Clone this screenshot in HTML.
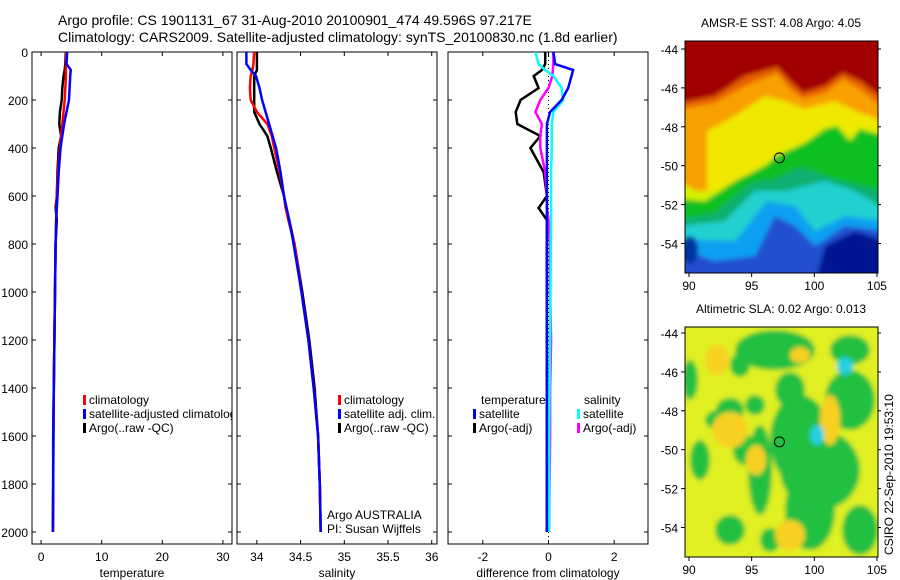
<!DOCTYPE html>
<html><head><meta charset="utf-8"><style>
body{margin:0;background:#fff}
svg{display:block;font-family:"Liberation Sans",sans-serif}
</style></head><body>
<svg id="s" width="900" height="580" viewBox="0 0 900 580">
<defs>
<filter id="bl" x="-5%" y="-5%" width="110%" height="110%"><feGaussianBlur stdDeviation="2.5"/></filter>
<clipPath id="c1"><rect x="32" y="52" width="200" height="492"/></clipPath>
<clipPath id="c2"><rect x="237" y="52" width="200" height="492"/></clipPath>
<clipPath id="c3"><rect x="448" y="52" width="200" height="492"/></clipPath>
<clipPath id="cm1"><rect x="685" y="41" width="193" height="232"/></clipPath>
<clipPath id="cm2"><rect x="685" y="327" width="193" height="230"/></clipPath>
</defs>
<text x="58" y="25" font-size="14">Argo profile: CS 1901131_67 31-Aug-2010 20100901_474 49.596S 97.217E</text>
<text x="58" y="42" font-size="14">Climatology: CARS2009. Satellite-adjusted climatology: synTS_20100830.nc (1.8d earlier)</text>
<g id="g"></g>
</svg>
<script>
// depth levels (m)
const depths=[0,50,75,100,150,200,250,300,350,400,500,600,650,700,800,1000,1200,1400,1600,1800,2000];
// temperature panel
const tempArgo=[4.1,4.0,3.9,3.7,3.5,3.4,3.1,3.0,3.3,2.9,2.7,2.6,2.4,2.6,2.4,2.3,2.2,2.1,2.05,2.0,1.95];
const tempClim=[4.2,4.1,4.1,4.1,4.0,3.9,3.7,3.5,3.3,3.1,2.8,2.6,2.55,2.5,2.4,2.3,2.2,2.1,2.0,2.0,1.95];
const tempSat=[4.3,4.2,4.9,4.8,4.7,4.6,4.2,3.8,3.5,3.2,2.9,2.7,2.6,2.5,2.4,2.3,2.2,2.1,2.0,2.0,1.95];
// salinity panel
const salArgo=[34.0,34.0,34.0,33.97,33.97,33.97,33.97,34.03,34.12,34.16,34.23,34.31,34.33,34.37,34.43,34.52,34.60,34.66,34.70,34.72,34.73];
const salClim=[33.97,33.96,33.95,33.93,33.92,33.93,34.0,34.12,34.17,34.2,34.26,34.31,34.33,34.36,34.43,34.51,34.59,34.65,34.70,34.72,34.73];
const salSat=[33.88,33.88,33.93,33.99,34.03,34.06,34.1,34.14,34.18,34.22,34.27,34.31,34.34,34.37,34.42,34.51,34.59,34.65,34.70,34.72,34.73];
// difference panel
const dTempArgo=[-0.1,-0.1,-0.2,-0.45,-0.3,-0.85,-1.0,-0.95,-0.25,-0.55,-0.15,-0.05,-0.3,-0.05,-0.05,-0.05,-0.05,-0.05,-0.05,-0.05,-0.05];
const dTempSat=[0.15,0.2,0.75,0.7,0.6,0.4,0.05,-0.05,-0.05,-0.05,-0.05,-0.05,-0.05,-0.05,-0.05,-0.05,-0.05,-0.05,-0.05,-0.05,-0.05];
const dSalArgo=[0.15,0.15,0.13,0.12,0.0,-0.25,-0.4,-0.2,-0.25,-0.25,-0.1,-0.05,-0.05,0.0,0.05,0.05,0.08,0.05,0.05,0.03,0.02];
const dSalSat=[-0.4,-0.3,-0.1,0.15,0.4,0.45,0.15,0.1,0.1,0.1,0.08,0.08,0.08,0.08,0.07,0.06,0.05,0.03,0.02,0.02,0.02];
const tempTicks=[0,10,20,30], salTicks=[34,34.5,35,35.5,36], diffTicks=[-2,0,2];
const depthTicks=[0,200,400,600,800,1000,1200,1400,1600,1800,2000];
const latTicks=[-44,-46,-48,-50,-52,-54], lonTicks=[90,95,100,105];

const NS='http://www.w3.org/2000/svg', G=document.getElementById('g');
function mk(t,a,p){const e=document.createElementNS(NS,t);for(const k in a)e.setAttribute(k,a[k]);(p||G).appendChild(e);return e;}
const Y=d=>52+d*0.24;
const panels=[
 {x0:32,lo:-1.5,hi:31.5,ticks:tempTicks,lab:'temperature',clip:'c1',name:'temperature-panel'},
 {x0:237,lo:33.773,hi:36.06,ticks:salTicks,lab:'salinity',clip:'c2',name:'salinity-panel'},
 {x0:448,lo:-3.06,hi:3.03,ticks:diffTicks,lab:'difference from climatology',clip:'c3',name:'difference-panel'}];
panels.forEach(p=>{p.X=v=>p.x0+(v-p.lo)/(p.hi-p.lo)*200;});
panels.forEach((p,i)=>{
 const r=mk('rect',{x:p.x0,y:52,width:200,height:492,fill:'none',stroke:'#000','stroke-width':1});
 
 
 depthTicks.forEach(d=>{
  mk('line',{x1:p.x0,x2:p.x0+4,y1:Y(d),y2:Y(d),stroke:'#000'});
  mk('line',{x1:p.x0+196,x2:p.x0+200,y1:Y(d),y2:Y(d),stroke:'#000'});
  if(i==0){const t=mk('text',{x:28,y:Y(d)+5,'font-size':12,'text-anchor':'end'});t.textContent=d;
   
   }
 });
 p.ticks.forEach(v=>{const x=p.X(v);
  mk('line',{x1:x,x2:x,y1:52,y2:56,stroke:'#000'});mk('line',{x1:x,x2:x,y1:540,y2:544,stroke:'#000'});
  const t=mk('text',{x:x,y:561,'font-size':12,'text-anchor':'middle'});t.textContent=v;
  
  });
 const t=mk('text',{x:p.x0+100,y:577,'font-size':12,'text-anchor':'middle'});t.textContent=p.lab;
 
 
});
function line(p,vals,col,name,w){
 const pts=vals.map((v,j)=>p.X(v).toFixed(1)+','+Y(depths[j]).toFixed(1)).join(' ');
 const e=mk('polyline',{points:pts,fill:'none',stroke:col,'stroke-width':w||2.5,'clip-path':'url(#'+p.clip+')'});
 
 
}
const P=panels;
mk('line',{x1:P[2].X(0),x2:P[2].X(0),y1:52,y2:544,stroke:'#000','stroke-dasharray':'1,3'});
line(P[0],tempArgo,'#000','temp-argo-line');line(P[0],tempClim,'#f00','temp-climatology-line');line(P[0],tempSat,'#00f','temp-satellite-line');
line(P[1],salArgo,'#000','sal-argo-line');line(P[1],salClim,'#f00','sal-climatology-line');line(P[1],salSat,'#00f','sal-satellite-line');
line(P[2],dTempArgo,'#000','diff-temp-argo-line');line(P[2],dSalArgo,'#f0f','diff-sal-argo-line');line(P[2],dSalSat,'#0ff','diff-sal-satellite-line');line(P[2],dTempSat,'#00f','diff-temp-satellite-line');
function leg(x,y,col,txt,clip,name){
 mk('rect',{x:x,y:y-9,width:3,height:10,fill:col});
 const t=mk('text',{x:x+6,y:y,'font-size':12,'clip-path':clip?'url(#'+clip+')':''});t.textContent=txt;
 
 
}
leg(83,404,'#f00','climatology','c1','legend-climatology');leg(83,418,'#00f','satellite-adjusted climatology','c1','legend-satellite');leg(83,432,'#000','Argo(..raw -QC)','c1','legend-argo');
leg(338,404,'#f00','climatology','c2','legend2-climatology');leg(338,418,'#00f','satellite adj. clim.','c2','legend2-satellite');leg(338,432,'#000','Argo(..raw -QC)','c2','legend2-argo');
let tt=mk('text',{x:481,y:404,'font-size':12});tt.textContent='temperature';


tt=mk('text',{x:584,y:404,'font-size':12});tt.textContent='salinity';


leg(473,418,'#00f','satellite','','legend3-temp-satellite');leg(473,432,'#000','Argo(-adj)','','legend3-temp-argo');
leg(577,418,'#0ff','satellite','','legend3-sal-satellite');leg(577,432,'#f0f','Argo(-adj)','','legend3-sal-argo');
tt=mk('text',{x:327,y:519,'font-size':12});tt.textContent='Argo AUSTRALIA';


tt=mk('text',{x:327,y:533,'font-size':12});tt.textContent='PI: Susan Wijffels';



// maps
function mapAxes(y0,h,lat44,title,name,clip){
 const r=mk('rect',{x:685,y:y0,width:193,height:h,fill:'none',stroke:'#000'});
 
 
 latTicks.forEach(l=>{const y=lat44+(-44-l)*19.45;
  mk('line',{x1:685,x2:681,y1:y,y2:y,stroke:'#000'});mk('line',{x1:878,x2:881,y1:y,y2:y,stroke:'#000'});
  const t=mk('text',{x:678,y:y+5,'font-size':12,'text-anchor':'end'});t.textContent=l;
  
  });
 lonTicks.forEach(l=>{const x=689+(l-90)*12.53;
  mk('line',{x1:x,x2:x,y1:y0+h,y2:y0+h+4,stroke:'#000'});
  const t=mk('text',{x:x,y:y0+h+17,'font-size':12,'text-anchor':'middle'});t.textContent=l;
  
  });
 const t=mk('text',{x:781,y:y0-14,'font-size':12,'text-anchor':'middle'});t.textContent=title;
 
 
 const c=mk('circle',{cx:689+7.217*12.53,cy:lat44+5.596*19.45,r:5,fill:'none',stroke:'#000'});
 
 
}
// SST map
const m1=mk('g',{'clip-path':'url(#cm1)'});


const f1=mk('g',{filter:'url(#bl)'},m1);
mk('rect',{x:680,y:36,width:205,height:245,fill:'#a00000'},f1);
const L=(pts)=>pts.map(p=>(685+p[0])+','+(41+p[1])).join(' ');
mk('polygon',{points:L([[-5,62],[30,55],[60,35],[92,26],[105,40],[118,52],[140,45],[158,32],[175,40],[200,59],[200,240],[-5,240]]),fill:'#e86000'},f1);
mk('polygon',{points:L([[-5,68],[30,62],[60,45],[92,32],[105,48],[118,58],[140,52],[158,38],[175,48],[200,68],[200,240],[-5,240]]),fill:'#f8a000'},f1);
mk('polygon',{points:L([[22,90],[50,75],[80,55],[100,60],[120,68],[150,60],[175,72],[200,80],[200,240],[22,240]]),fill:'#f0e800'},f1);
mk('polygon',{points:L([[-5,140],[10,150],[30,150],[60,135],[80,122],[92,112],[120,100],[140,85],[152,82],[165,95],[175,85],[200,92],[200,240],[-5,240]]),fill:'#d8f000'},f1);
mk('polygon',{points:L([[-5,158],[20,160],[50,140],[80,125],[92,115],[120,102],[140,88],[152,85],[165,100],[175,88],[200,95],[200,240],[-5,240]]),fill:'#10c020'},f1);
mk('polygon',{points:L([[-5,178],[30,172],[65,142],[90,138],[115,126],[150,138],[200,150],[200,240],[-5,240]]),fill:'#10b070'},f1);
mk('polygon',{points:L([[-5,185],[40,180],[70,150],[100,150],[140,140],[170,150],[200,168],[200,240],[-5,240]]),fill:'#20d0d0'},f1);
mk('polygon',{points:L([[-5,198],[50,200],[82,160],[110,165],[130,190],[160,175],[200,180],[200,240],[-5,240]]),fill:'#10a0f0'},f1);
mk('polygon',{points:L([[-5,208],[30,220],[70,215],[90,175],[110,185],[130,205],[160,185],[200,190],[200,240],[-5,240]]),fill:'#2050d0'},f1);
mk('polygon',{points:L([[140,205],[170,190],[200,200],[200,240],[130,240]]),fill:'#001890'},f1);
mk('ellipse',{cx:690,cy:250,rx:8,ry:14,fill:'#0030a0'},f1);
mapAxes(41,232,49,'AMSR-E SST: 4.08 Argo: 4.05','sst-map','cm1');
// SLA map
const m2=mk('g',{'clip-path':'url(#cm2)'});


const f2=mk('g',{filter:'url(#bl)'},m2);
mk('rect',{x:680,y:322,width:205,height:240,fill:'#e0f020'},f2);
const greens=[[775,350,40,20],[740,365,10,12],[730,410,14,12],[755,405,10,10],[800,440,30,45],[820,470,40,40],[810,510,25,40],[850,400,25,30],[760,470,12,45],[700,460,10,20],[690,380,8,20],[720,420,15,10],[730,530,15,15],[770,540,10,12],[860,530,18,25],[790,390,15,18],[745,450,12,15],[850,350,20,15]];
greens.forEach(g=>mk('ellipse',{cx:g[0],cy:g[1],rx:g[2],ry:g[3],fill:'#20c040'},f2));
const yellows=[[717,360,12,15],[730,430,18,18],[756,460,10,15],[790,535,15,15],[830,420,10,25],[800,355,10,8]];
yellows.forEach(g=>mk('ellipse',{cx:g[0],cy:g[1],rx:g[2],ry:g[3],fill:'#f8d020'},f2));
[[817,435,7,10],[845,366,8,9]].forEach(g=>mk('ellipse',{cx:g[0],cy:g[1],rx:g[2],ry:g[3],fill:'#20d0e0'},f2));
mapAxes(327,230,333,'Altimetric SLA: 0.02 Argo: 0.013','sla-map','cm2');
tt=mk('text',{x:0,y:0,'font-size':12,transform:'translate(893,555) rotate(-90)'});tt.textContent='CSIRO 22-Sep-2010 19:53:10';


</script>
</body></html>
